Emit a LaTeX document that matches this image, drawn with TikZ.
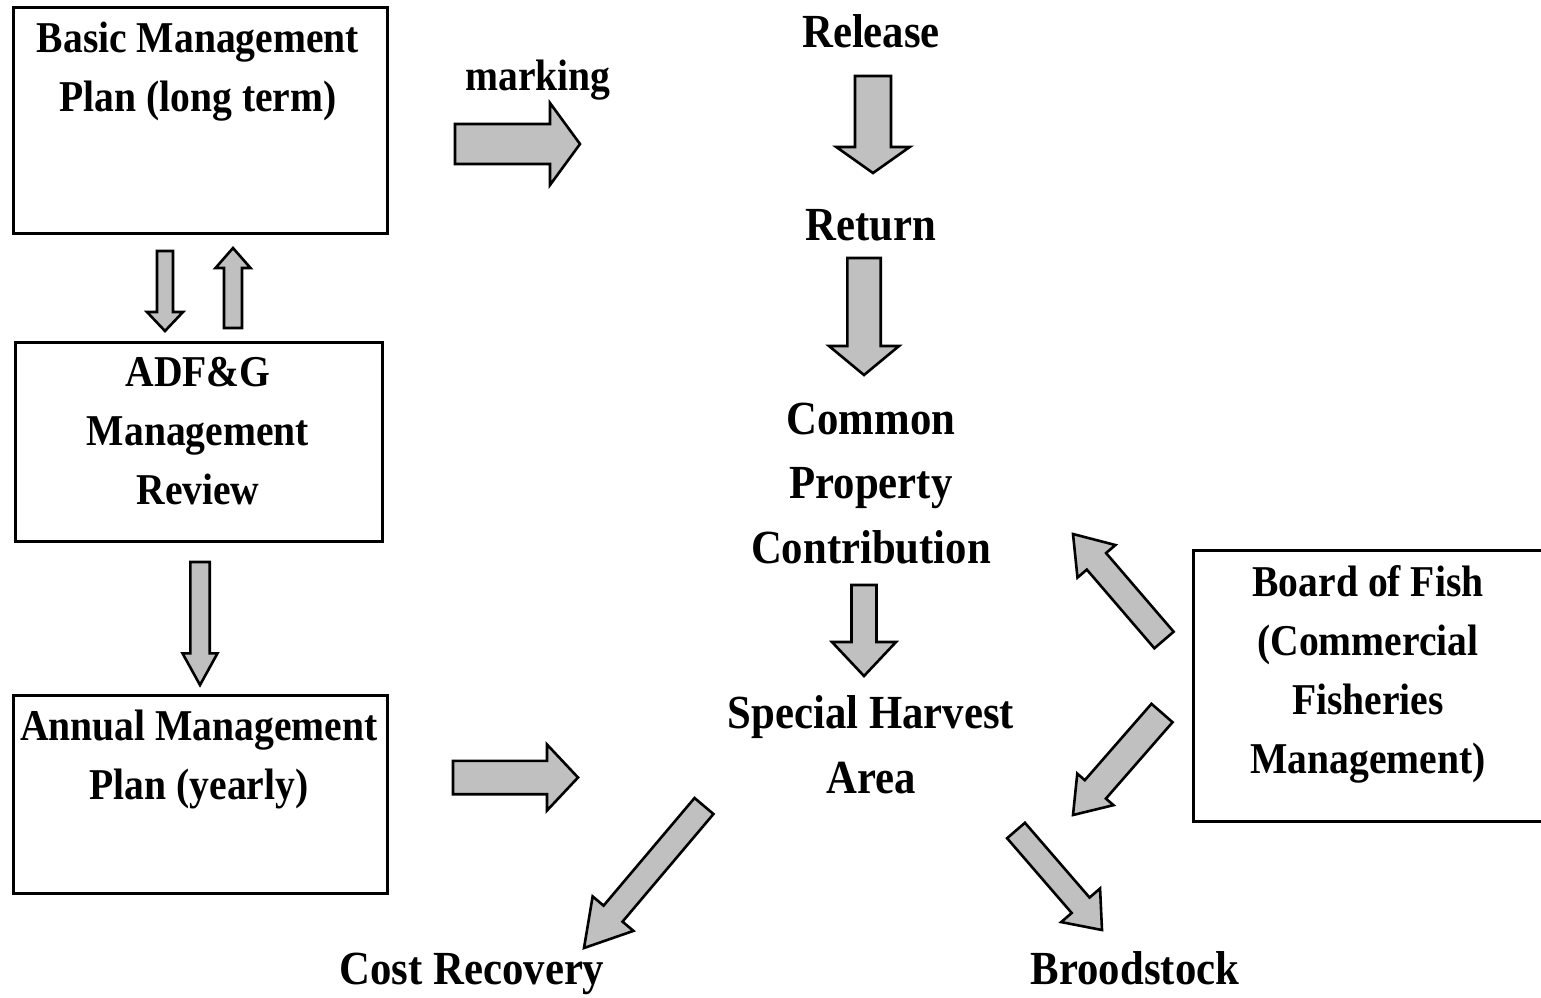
\documentclass[tikz,border=0pt]{standalone}
\usepackage{fontspec}
\setmainfont{Liberation Serif}[FakeStretch=0.9]
\usetikzlibrary{calc}
\definecolor{arrgray}{RGB}{192,192,192}
\tikzset{
 boxst/.style={draw, line width=2.5pt, inner sep=0pt, anchor=north west},
 arrst/.style={draw, fill=arrgray, line width=2.6pt, line join=miter},
 txtA/.style={font=\fontsize{44}{59}\selectfont\bfseries, align=center, inner sep=0pt, anchor=base},
 txtB/.style={font=\fontsize{47.5}{64.5}\selectfont\bfseries, align=center, inner sep=0pt, anchor=base},
}
\newcommand\blockarrow[5]{%
 \path ($(#2)!#5!(#1)$) coordinate (hb);
 \draw[arrst] ($(#1)!#3!90:(#2)$) -- ($(hb)!#3!-90:(#1)$) -- ($(hb)!#4!-90:(#1)$) -- (#2)
   -- ($(hb)!#4!90:(#1)$) -- ($(hb)!#3!90:(#1)$) -- ($(#1)!#3!-90:(#2)$) -- cycle;}
\begin{document}
\begin{tikzpicture}[x=1pt,y=-1pt]
\clip (0,0) rectangle (1541,997);
\fill[white] (0,0) rectangle (1541,997);
% boxes
\node[boxst, minimum width=374pt, minimum height=226pt] (b1) at (12,6) {};
\node[boxst, minimum width=367pt, minimum height=199pt] (b2) at (14,341) {};
\node[boxst, minimum width=374pt, minimum height=198pt] (b3) at (12,694) {};
\node[boxst, minimum width=360pt, minimum height=271pt] (b4) at (1192,549) {};
% texts
\node[txtA] (t1) at (198,111) {Basic Management\\Plan (long term)};
\node[txtA] (t2) at (198,504) {ADF\&G\\Management\\Review};
\node[txtA] (t3) at (199,799) {Annual Management\\Plan (yearly)};
\node[txtA] (t4) at (1368,773) {Board of Fish\\(Commercial\\Fisheries\\Management)};
\node[txtA] (mk) at (538,90) {marking};
\node[txtB] (rel) at (871,47) {Release};
\node[txtB] (ret) at (871,240) {Return};
\node[txtB] (cpc) at (871,563) {Common\\Property\\Contribution};
\node[txtB] (sha) at (871,793) {Special Harvest\\Area};
\node[txtB] (cr) at (472,984) {Cost Recovery};
\node[txtB] (bs) at (1135,984) {Broodstock};
% arrow end points
\coordinate (a1t) at (455,144);   \coordinate (a1h) at (580,144);
\coordinate (a2t) at (453,777.5); \coordinate (a2h) at (578,777.5);
\coordinate (a3t) at (873,76);    \coordinate (a3h) at (873,173);
\coordinate (a4t) at (864,258);   \coordinate (a4h) at (864,375);
\coordinate (a5t) at (864,585);   \coordinate (a5h) at (864,676);
\coordinate (a6t) at (165,251);   \coordinate (a6h) at (165,331);
\coordinate (a7t) at (233,328);   \coordinate (a7h) at (233,248);
\coordinate (a8t) at (200,562);   \coordinate (a8h) at (200,685);
\coordinate (a9t) at (1164,640);  \coordinate (a9h) at (1073,534);
\coordinate (a10t) at (1162,713); \coordinate (a10h) at (1073,815);
\coordinate (a11t) at (704,806);  \coordinate (a11h) at (584,948);
\coordinate (a12t) at (1016,830.5); \coordinate (a12h) at (1102,930);
% block arrows
\blockarrow{a1t}{a1h}{20pt}{41pt}{30pt}
\blockarrow{a2t}{a2h}{16.7pt}{33pt}{31pt}
\blockarrow{a3t}{a3h}{18pt}{36.7pt}{26pt}
\blockarrow{a4t}{a4h}{16.7pt}{35pt}{29pt}
\blockarrow{a5t}{a5h}{12.5pt}{32pt}{34pt}
\blockarrow{a6t}{a6h}{8pt}{18pt}{19pt}
\blockarrow{a7t}{a7h}{9pt}{17.5pt}{20pt}
\blockarrow{a8t}{a8h}{9.7pt}{17.5pt}{31.7pt}
\blockarrow{a9t}{a9h}{12.7pt}{25pt}{36pt}
\blockarrow{a10t}{a10h}{14pt}{24pt}{34pt}
\blockarrow{a11t}{a11h}{12.4pt}{26.7pt}{45pt}
\blockarrow{a12t}{a12h}{11.8pt}{25.7pt}{32.7pt}
\end{tikzpicture}
\end{document}
